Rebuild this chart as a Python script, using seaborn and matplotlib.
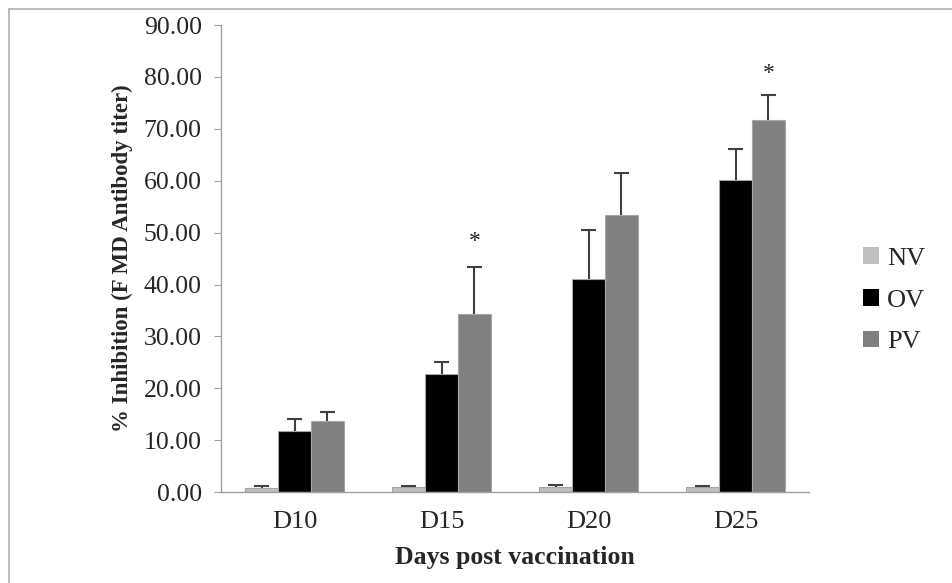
import matplotlib
matplotlib.use("Agg")
import matplotlib.pyplot as plt
from matplotlib.patches import Patch
from matplotlib.lines import Line2D
import numpy as np
import pandas as pd
import seaborn as sns

days = ["D10", "D15", "D20", "D25"]
groups = ["NV", "OV", "PV"]
nv_mean = [0.7, 0.9, 0.9, 0.9]
nv_err = [0.45, 0.35, 0.45, 0.35]
ov_mean = [11.8, 22.7, 41.0, 60.1]
ov_err = [2.2, 2.4, 9.5, 6.0]
pv_mean = [13.6, 34.3, 53.4, 71.7]
pv_err = [1.8, 9.1, 8.1, 4.8]
stars = {"D15": 48.2, "D25": 80.7}
colors = ["#bfbfbf", "#000000", "#808080"]

df = pd.DataFrame({
    "day": days * 3,
    "group": ["NV"] * 4 + ["OV"] * 4 + ["PV"] * 4,
    "value": nv_mean + ov_mean + pv_mean,
})
errs = {"NV": nv_err, "OV": ov_err, "PV": pv_err}

sns.set_style("white")
plt.rcParams["font.family"] = ["Liberation Serif", "DejaVu Serif"]

fig = plt.figure(figsize=(9.53, 5.83), dpi=100)
ax = fig.add_axes([0.232, 0.156, 0.617, 0.801])

sns.barplot(data=df, x="day", y="value", hue="group", order=days,
            hue_order=groups, palette=colors, width=0.67, errorbar=None,
            edgecolor="#a6a6a6", linewidth=0.8, ax=ax, legend=False)

# upper error bars only, bars come in hue order
for i, g in enumerate(groups):
    for j in range(len(days)):
        bar = ax.patches[i * len(days) + j]
        cx = bar.get_x() + bar.get_width() / 2
        top = bar.get_height() + errs[g][j]
        ax.vlines(cx, bar.get_height(), top, color="#404040", lw=1.5, zorder=3)
        ax.hlines(top, cx - 0.05, cx + 0.05, color="#404040", lw=1.5, zorder=3)

pv_bars = ax.patches[2 * len(days):3 * len(days)]
for d, yv in stars.items():
    bar = pv_bars[days.index(d)]
    ax.text(bar.get_x() + bar.get_width() / 2, yv, "*", ha="center",
            va="center", fontsize=17, color="#222222")

ax.set_xlim(-0.5, 3.5)
ax.set_ylim(0, 90)
ax.set_yticks(np.arange(0, 91, 10))
ax.set_yticklabels([f"{v:.2f}" for v in np.arange(0, 91, 10)], fontsize=18.5)
ax.set_xticks(range(4))
ax.set_xticklabels(days, fontsize=19)
ax.set_xticks(np.arange(-0.5, 4, 1), minor=True)
ax.tick_params(axis="x", which="major", length=0, pad=14)
ax.tick_params(axis="x", which="minor", length=7, color="#a0a0a0", direction="out")
ax.tick_params(axis="y", length=5, color="#a0a0a0", direction="out", left=True, pad=9)

for s in ["top", "right"]:
    ax.spines[s].set_visible(False)
for s in ["left", "bottom"]:
    ax.spines[s].set_color("#a0a0a0")
    ax.spines[s].set_linewidth(1.0)

ax.set_xlabel("Days post vaccination", fontsize=18.5, fontweight="bold", labelpad=9)
ax.set_ylabel("% Inhibition (F MD Antibody titer)", fontsize=16.5,
              fontweight="bold", labelpad=8)

handles = [Patch(facecolor=c, edgecolor="none") for c in colors]
fig.legend(handles, groups, loc="center left", bbox_to_anchor=(0.895, 0.485),
           frameon=False, fontsize=19, handlelength=0.6, handleheight=0.6,
           handletextpad=0.3, labelspacing=0.72, borderaxespad=0)

# outer frame (top and left edges visible)
fig.add_artist(Line2D([9 / 953, 1.0], [1 - 9 / 583, 1 - 9 / 583],
                      transform=fig.transFigure, color="#b0b0b0", lw=1.2))
fig.add_artist(Line2D([9 / 953, 9 / 953], [0, 1 - 9 / 583],
                      transform=fig.transFigure, color="#b0b0b0", lw=1.2))

fig.savefig("out.png", dpi=100)
